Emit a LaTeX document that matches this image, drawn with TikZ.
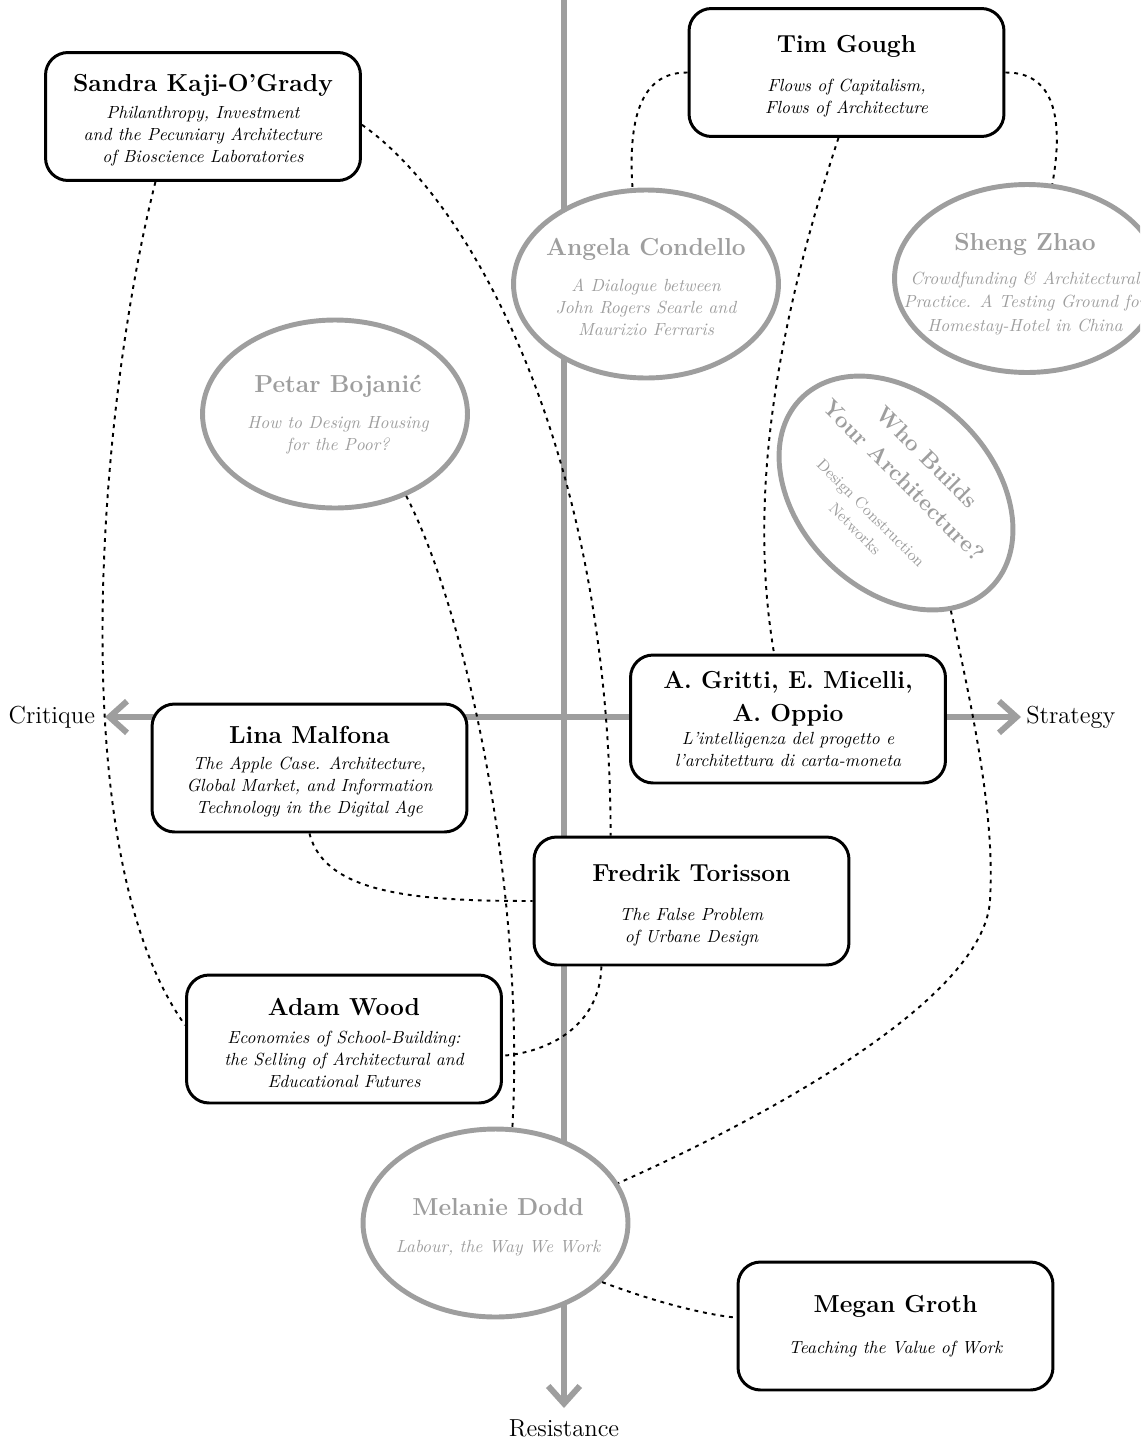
\documentclass[tikz,border=0pt]{standalone}
\usepackage{fontspec}
\usepackage{tikz}
\usetikzlibrary{shapes.geometric,arrows.meta}

\definecolor{axisgray}{RGB}{158,158,158}
\newcommand{\authfont}{\fontsize{14}{17}\selectfont\bfseries\upshape}
\newcommand{\titlelift}{\rule{0pt}{14.2pt}}
\newcommand{\paperfont}{\fontsize{10}{12.5}\selectfont\itshape}
\newcommand{\whofont}{\fontsize{13}{15.6}\selectfont\bfseries\upshape}
\newcommand{\netfont}{\fontsize{9}{11}\selectfont\upshape}
\newcommand{\axisfont}{\fontsize{14}{17}\selectfont}

\tikzset{
  box/.style={draw, line width=1.7pt, rounded corners=0.45cm, fill=white,
    minimum width=6.3cm, minimum height=2.56cm, align=center, font=\paperfont},
  oval/.style={draw=axisgray, line width=2.8pt, ellipse, fill=white,
    minimum width=5.3cm, minimum height=3.76cm, inner sep=0pt},
  ovaltext/.style={align=center, text=axisgray, font=\paperfont},
  axis/.style={draw=axisgray, line width=3.4pt, >={Straight Barb[length=10pt,width=18pt]}},
  axislabel/.style={font=\axisfont, text height=10pt, text depth=3pt, inner ysep=1pt},
  link/.style={line width=1.1pt, dash pattern=on 2.2pt off 2.8pt}
}

\begin{document}
\begin{tikzpicture}[x=0.02cm, y=-0.02cm]
\useasboundingbox (0,0) rectangle (1140,1440);
\clip (0,0) rectangle (1140,1440);

% axes
\coordinate (axtop) at (564,-5);
\node[axislabel, anchor=east, inner xsep=5.5pt] (critique) at (105,717) {Critique};
\node[axislabel, anchor=west, inner xsep=2.8pt] (strategy) at (1021,717) {Strategy};
\node[axislabel, anchor=north, inner sep=6pt] (resistance) at (564,1408) {Resistance};
\draw[axis, <->] (critique) -- (strategy);
\draw[axis, ->] (axtop) -- (resistance);

% boxes
\node[box] (sandra) at (203,116.5) {{\authfont\titlelift Sandra Kaji-O'Grady}\\[2.6pt]
  Philanthropy, Investment\\ and the Pecuniary Architecture\\ of Bioscience Laboratories};
\node[box] (tim) at (846.5,72.5) {{\authfont\titlelift Tim Gough}\\[9.4pt]
  Flows of Capitalism,\\ Flows of Architecture};
\node[box] (gritti) at (788,719) {{\authfont A. Gritti, E. Micelli,}\\[5.6pt]{\authfont A. Oppio}\\[0.6pt]
  L'intelligenza del progetto e\\ l'architettura di carta-moneta};
\node[box] (lina) at (309.5,768) {{\authfont\titlelift Lina Malfona}\\[2pt]
  The Apple Case. Architecture,\\ Global Market, and Information\\ Technology in the Digital Age};
\node[box] (fredrik) at (691.5,901) {{\authfont\titlelift Fredrik Torisson}\\[9.9pt]
  The False Problem\\ of Urbane Design};
\node[box] (adam) at (344,1039) {{\authfont\titlelift Adam Wood}\\[3.6pt]
  Economies of School-Building:\\ the Selling of Architectural and\\ Educational Futures};
\node[box] (megan) at (895.5,1326) {{\authfont Megan Groth}\\[11pt]
  Teaching the Value of Work};

% ovals
\node[oval] (angela) at (646,284) {};
\node[ovaltext] (angela-txt) at (646,287) {{\authfont Angela Condello}\\[8.1pt]
  A Dialogue between\\ John Rogers Searle and\\ Maurizio Ferraris};
\node[oval] (sheng) at (1027,278.5) {};
\node[ovaltext] (sheng-txt) at (1025,284) {{\authfont Sheng Zhao}\\[6.8pt]
  Crowdfunding \& Architectural\\[1pt] Practice. A Testing Ground for\\[1pt] Homestay-Hotel in China};
\node[oval] (petar) at (335,414) {};
\node[ovaltext] (petar-txt) at (338,415) {{\authfont Petar Bojanić}\\[8pt]
  How to Design Housing\\ for the Poor?};
\node[oval] (melanie) at (495.5,1223) {};
\node[ovaltext] (melanie-txt) at (498,1227) {{\authfont Melanie Dodd}\\[8.6pt]
  Labour, the Way We Work};
\node[oval, rotate=-45, minimum width=5.36cm, minimum height=3.88cm] (who) at (896,493) {};
\node[ovaltext, rotate=-45, font=\netfont] (who-txt) at (892,492) {{\whofont Who Builds}\\[7.7pt]
  {\whofont Your Architecture?}\\[14pt] Design Construction\\[1.7pt] Networks};

% links
\draw[link] (sandra.-3) .. controls (470,200) and (610,450) .. (fredrik.141);
\draw[link] (sandra.234) .. controls (100,400) and (60,850) .. (adam.175);
\draw[link] (tim.west) .. controls (640,72) and (628,120) .. (angela.98);
\draw[link] (tim.east) .. controls (1060,72) and (1062,130) .. (sheng.75);
\draw[link] (tim.-97) .. controls (775,330) and (748,500) .. (gritti.102);
\draw[link] (petar.-49) .. controls (470,620) and (525,900) .. (melanie.80);
\draw[link] (lina.south) .. controls (325,895) and (420,901) .. (fredrik.west);
\draw[link] (fredrik.-144) .. controls (600,1025) and (550,1052) .. (adam.-6);
\draw[link] (who.-20) .. controls (975,720) and (995,820) .. (990,900)
  .. controls (985,1000) and (760,1120) .. (melanie.18);
\draw[link] (melanie.-29) .. controls (650,1300) and (700,1314) .. (megan.177);

\end{tikzpicture}
\end{document}
